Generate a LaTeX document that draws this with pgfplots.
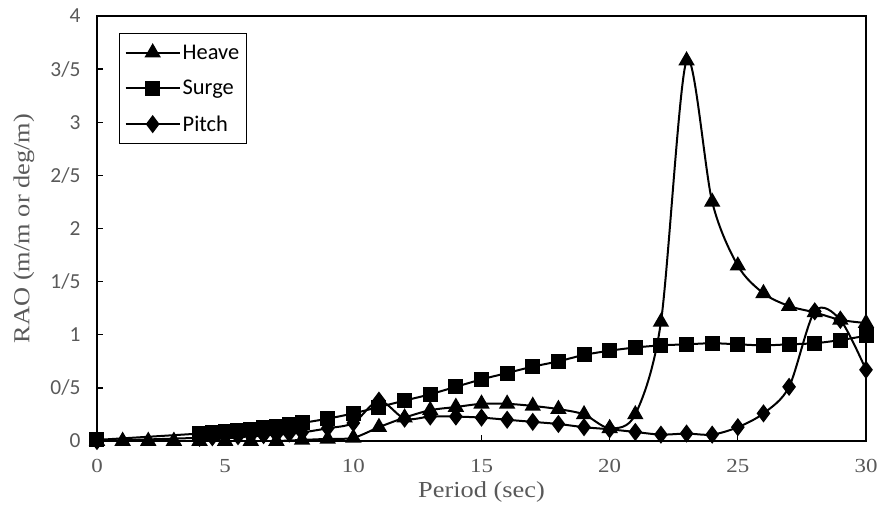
\documentclass[border=0pt]{standalone}
\usepackage{pgfplots}
\pgfplotsset{compat=1.18}
\usepackage{fontspec}
\setmainfont{Liberation Serif}[FakeStretch=1.15]
\newfontfamily\calibri{Carlito}
\definecolor{txtgray}{HTML}{595959}
\begin{document}
\begin{tikzpicture}
\path[use as bounding box] (-97bp,-68bp) rectangle (785bp,441bp);
\begin{axis}[
  at={(0,0)}, anchor=south west,
  scale only axis, width=769bp, height=425bp,
  xmin=0, xmax=30, ymin=0, ymax=4,
  xtick={0,5,...,30}, ytick={0,0.5,...,4},
  yticklabels={0,0/5,1,1/5,2,2/5,3,3/5,4},
  xtick pos=lower, ytick pos=left,
  tick align=inside, major tick length=6bp,
  axis line style={line width=1.5bp},
  tick style={line width=1.3bp, black},
  xticklabel style={font=\fontsize{20}{22}\selectfont, text=txtgray},
  yticklabel style={font=\calibri\fontsize{21.5}{23}\selectfont, text=txtgray},
  yticklabel shift=13bp, xticklabel shift=15bp,
  /pgf/number format/assume math mode=true,
  xlabel={Period (sec)}, ylabel={RAO (m/m or deg/m)},
  xlabel style={font=\fontsize{23}{25}\selectfont, text=txtgray, at={(axis description cs:0.5,0)}, anchor=base, yshift=-56bp},
  ylabel style={font=\fontsize{23}{25}\selectfont, text=txtgray, at={(axis description cs:-0.095,0.5)}, anchor=center},
  legend style={at={(0,1)}, anchor=north west, xshift=22bp, yshift=-17bp,
    draw=black, line width=1.4bp, font=\calibri\fontsize{22.5}{24}\selectfont,
    inner xsep=5bp, inner ysep=9bp, row sep=15.5bp, cells={anchor=west}},
  legend image code/.code={\draw[mark repeat=2,mark phase=2,#1,line width=2bp] plot coordinates {(0bp,0bp) (27bp,0bp) (54bp,0bp)};},
  every axis plot/.append style={black, line width=2bp, smooth, tension=0.5},
]
\addplot[mark=triangle*, mark size=7.5bp, mark options={solid}] coordinates {
(0,0) (1,0) (2,0) (3,0) (4,0) (5,0) (6,0) (7,0) (8,0.01) (9,0.02) (10,0.03)
(11,0.13) (12,0.22) (13,0.29) (14,0.32) (15,0.35) (16,0.35) (17,0.33) (18,0.30)
(19,0.25) (20,0.12) (21,0.25) (22,1.12) (23,3.58) (24,2.25) (25,1.65) (26,1.39)
(27,1.27) (28,1.21) (29,1.14) (30,1.11)};
\addlegendentry{Heave}
\addplot[mark=square*, mark size=6.5bp, mark options={solid}] coordinates {
(0,0.01) (4,0.07) (4.5,0.08) (5,0.09) (5.5,0.10) (6,0.11) (6.5,0.125) (7,0.14)
(7.5,0.155) (8,0.17) (9,0.21) (10,0.26) (11,0.32) (12,0.38) (13,0.44) (14,0.51)
(15,0.58) (16,0.64) (17,0.70) (18,0.75) (19,0.81) (20,0.85) (21,0.88) (22,0.90)
(23,0.91) (24,0.92) (25,0.91) (26,0.90) (27,0.91) (28,0.92) (29,0.95) (30,0.99)};
\addlegendentry{Surge}
\addplot[mark=diamond*, mark size=7.5bp, mark options={solid}] coordinates {
(0,0) (4,0.03) (4.5,0.035) (5,0.04) (5.5,0.045) (6,0.05) (6.5,0.055) (7,0.06)
(7.5,0.07) (8,0.08) (9,0.12) (10,0.17) (11,0.38) (12,0.21) (13,0.23) (14,0.23)
(15,0.22) (16,0.20) (17,0.18) (18,0.16) (19,0.13) (20,0.11) (21,0.085) (22,0.06)
(23,0.07) (24,0.06) (25,0.13) (26,0.26) (27,0.51) (28,1.22) (29,1.14) (30,0.67)};
\addlegendentry{Pitch}
\end{axis}
\end{tikzpicture}
\end{document}
